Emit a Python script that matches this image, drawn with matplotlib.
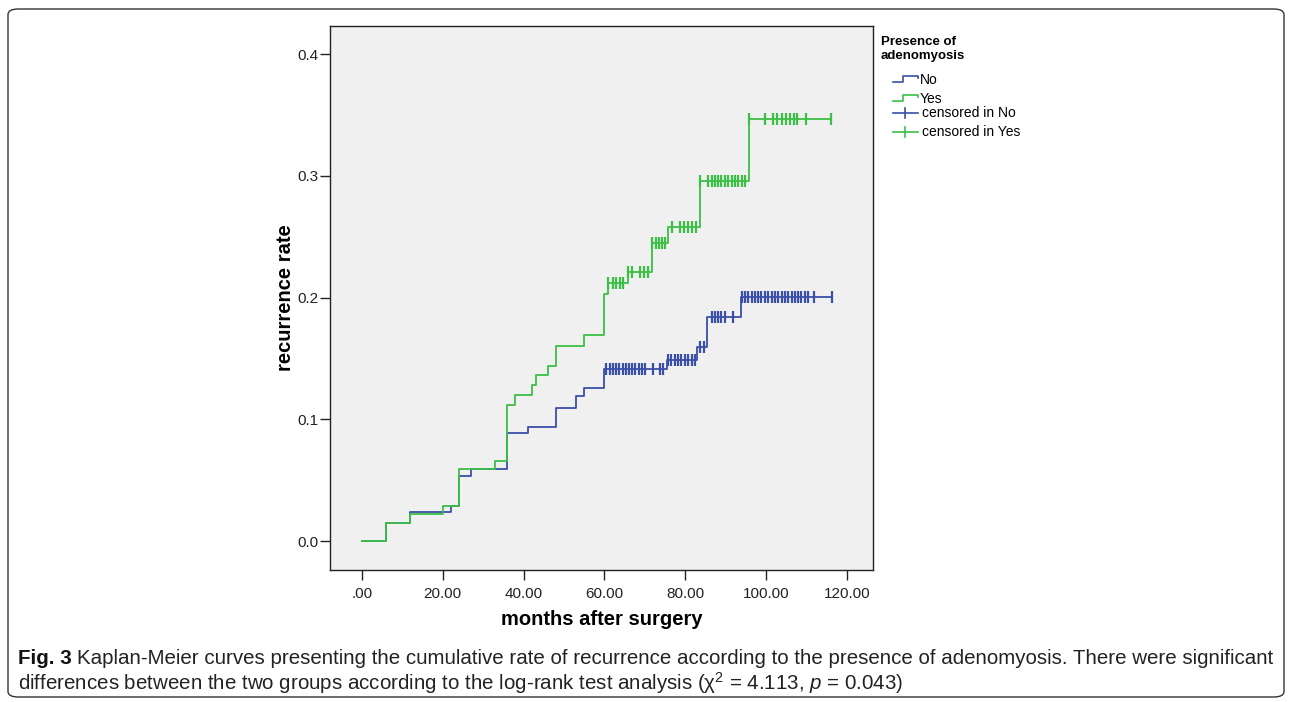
import numpy as np
import matplotlib
matplotlib.use('Agg')
import matplotlib.pyplot as plt
from matplotlib.lines import Line2D
from matplotlib.patches import FancyBboxPatch

# Kaplan-Meier steps (months, cumulative recurrence rate)
no_times = [0, 6, 12, 22, 24, 27, 36, 41, 48, 53, 55, 60, 75.5, 83, 85.5, 93.8]
no_rates = [0, 0.0145, 0.024, 0.029, 0.053, 0.0589, 0.0885, 0.094, 0.1095,
            0.119, 0.1254, 0.141, 0.149, 0.1596, 0.1837, 0.2007]
no_end = 116.3

yes_times = [0, 6, 12, 20, 24, 33, 36, 38, 42, 43, 46, 48, 55, 60, 61, 65.8,
             71.7, 75.7, 83.8, 95.9]
yes_rates = [0, 0.0145, 0.0219, 0.029, 0.0589, 0.066, 0.112, 0.12, 0.128,
             0.136, 0.144, 0.160, 0.169, 0.203, 0.2117, 0.2212, 0.245, 0.258,
             0.2957, 0.3466]
yes_end = 116.0

# censored observations (months)
no_censored = [60.5, 61.3, 62.1, 62.9, 63.7, 64.5, 65.3, 66.1, 66.9, 67.7,
               68.5, 69.3, 70.1, 72.0, 73.8, 74.6,
               75.8, 76.6, 77.5, 78.3, 79.1, 79.9, 80.8, 81.6, 82.4,
               83.7, 84.7,
               86.6, 87.4, 88.2, 89.0, 89.9, 91.9,
               94.0, 94.8, 95.6, 96.5, 97.3, 98.1, 98.9, 99.8, 100.6, 101.4,
               102.2, 103.0, 103.9, 104.7, 105.5, 106.4, 107.2, 108.0, 108.8,
               109.7, 110.5, 111.9, 116.3]
yes_censored = [61.0, 62.2, 63.0, 63.9, 64.7,
                65.8, 66.8, 68.8, 69.9, 70.7,
                71.9, 72.7, 73.5, 74.3, 75.0,
                76.8, 78.7, 79.8, 80.8, 81.8, 82.6,
                83.8, 85.7, 86.6, 87.4, 88.2, 89.0, 89.9, 90.7, 91.5, 92.3,
                93.1, 94.0, 94.8,
                95.9, 99.75, 101.8, 102.8, 103.9, 104.9, 105.9, 106.9, 107.8,
                109.9, 116.0]

x_ticks = [0, 20, 40, 60, 80, 100, 120]
x_ticklabels = ['.00', '20.00', '40.00', '60.00', '80.00', '100.00', '120.00']
y_ticks = [0.0, 0.1, 0.2, 0.3, 0.4]
y_ticklabels = ['0.0', '0.1', '0.2', '0.3', '0.4']

blue = '#3a4fa8'
green = '#3cbf46'


def level_at(times, rates, t):
    i = np.searchsorted(times, t, side='right') - 1
    return rates[i]


plt.rcParams['font.family'] = ['Liberation Sans', 'DejaVu Sans']
plt.rcParams['mathtext.fontset'] = 'custom'
plt.rcParams['mathtext.rm'] = 'Liberation Sans'
plt.rcParams['mathtext.it'] = 'Liberation Sans:italic'

fig = plt.figure(figsize=(12.92, 7.02), dpi=100)
fig.patch.set_facecolor('white')

# outer rounded frame
frame = FancyBboxPatch((8 / 1292, 5 / 702), 1276 / 1292, 688 / 702,
                       boxstyle='round,pad=0,rounding_size=0.008',
                       transform=fig.transFigure, fill=False,
                       edgecolor='#333333', linewidth=1.0)
fig.patches.append(frame)

ax = fig.add_axes([330 / 1292, 1 - 570 / 702, 543 / 1292, 544 / 702])
ax.set_facecolor('#f0f0f0')

for times, rates, end, color in [(no_times, no_rates, no_end, blue),
                                 (yes_times, yes_rates, yes_end, green)]:
    xs = list(times) + [end]
    ys = list(rates) + [rates[-1]]
    ax.step(xs, ys, where='post', color=color, linewidth=1.3)

for cens, times, rates, color in [(no_censored, no_times, no_rates, blue),
                                  (yes_censored, yes_times, yes_rates, green)]:
    ys = [level_at(times, rates, t) for t in cens]
    ax.plot(cens, ys, linestyle='none', marker='|', markersize=8.5,
            markeredgewidth=1.6, color=color)

ax.set_xlim(-7.9, 126.5)
ax.set_ylim(-0.0238, 0.423)
ax.set_xticks(x_ticks)
ax.set_xticklabels(x_ticklabels)
ax.set_yticks(y_ticks)
ax.set_yticklabels(y_ticklabels)
ax.tick_params(labelsize=11, length=7, width=1, colors='#222222', pad=1)
ax.tick_params(axis='x', pad=5)
for s in ax.spines.values():
    s.set_color('#222222')
    s.set_linewidth(1.0)

ax.set_xlabel('months after surgery', fontsize=14.5, fontweight='bold', labelpad=7)
ax.set_ylabel('recurrence rate', fontsize=14.5, fontweight='bold', labelpad=2)

# legend
fig.text(881 / 1292, 1 - 42 / 702, 'Presence of', fontsize=9.5, fontweight='bold',
         va='center', ha='left')
fig.text(881 / 1292, 1 - 56 / 702, 'adenomyosis', fontsize=9.5, fontweight='bold',
         va='center', ha='left')


def fig_line(xs, ys, color, lw=1.2):
    fig.add_artist(Line2D([x / 1292 for x in xs], [1 - y / 702 for y in ys],
                          transform=fig.transFigure, color=color, linewidth=lw))


for y0, color, label in [(79, blue, 'No'), (98, green, 'Yes')]:
    fig_line([893, 903, 903, 918, 918], [y0 + 3, y0 + 3, y0 - 3, y0 - 3, y0 - 1],
             color)
    fig.text(920 / 1292, 1 - (y0 + 1) / 702, label, fontsize=10, va='center',
             ha='left')

for y0, color, label in [(113, blue, 'censored in No'), (132, green, 'censored in Yes')]:
    fig_line([893, 918], [y0, y0], color)
    fig_line([905, 905], [y0 - 5, y0 + 5], color)
    fig.text(922 / 1292, 1 - y0 / 702, label, fontsize=10, va='center', ha='left')

# caption
cap_size = 14.75
t1 = fig.text(18 / 1292, 1 - 658 / 702, 'Fig. 3', fontsize=cap_size,
              fontweight='bold', va='center', ha='left', color='#111111')
renderer = fig.canvas.get_renderer()
bb = t1.get_window_extent(renderer)
fig.text((bb.x1 + 5) / 1292, 1 - 658 / 702,
         'Kaplan-Meier curves presenting the cumulative rate of recurrence according '
         'to the presence of adenomyosis. There were significant',
         fontsize=cap_size, va='center', ha='left', color='#222222')
fig.text(18 / 1292, 1 - 683 / 702,
         'differences between the two groups according to the log-rank test analysis '
         r'(χ$^2$ = 4.113, $\it{p}$ = 0.043)',
         fontsize=cap_size, va='center', ha='left', color='#222222')

fig.savefig('out.png', dpi=100)
